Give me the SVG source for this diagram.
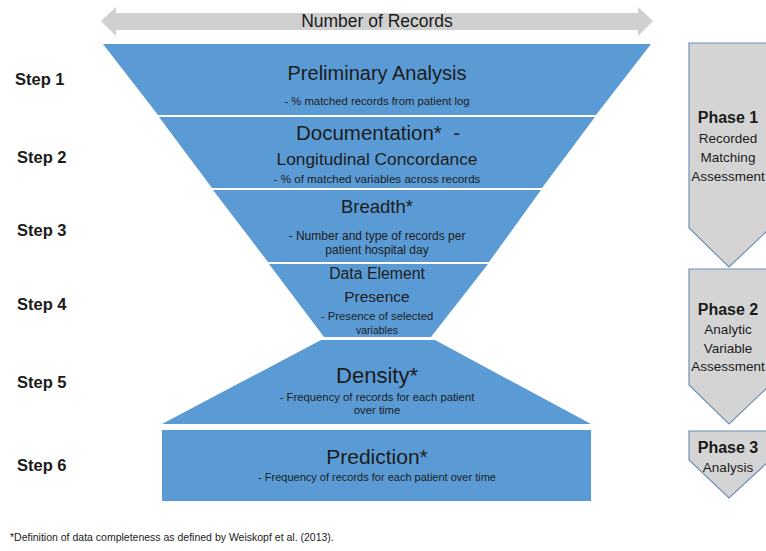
<svg xmlns="http://www.w3.org/2000/svg" width="766" height="551" viewBox="0 0 766 551">
  <style>
    text { font-family: "Liberation Sans", Arial, sans-serif; fill: #1b1b1b; }
    .band { fill: #5b9bd5; }
    .title { font-size: 20px; text-anchor: middle; }
    .sub { font-size: 11.3px; text-anchor: middle; }
    .step { font-size: 16.5px; font-weight: bold; }
    .phase { fill: #d4d4d4; stroke: #6f8fb4; stroke-width: 1.2; }
    .ph { font-size: 16px; font-weight: bold; text-anchor: middle; }
    .pd { font-size: 13.5px; text-anchor: middle; }
  </style>

  <rect width="766" height="551" fill="#ffffff"/>

  <!-- width scale arrow -->
  <g id="records-axis">
    <polygon points="101,21 116,7 116,13 638,13 638,7 653,21 638,36 638,30 116,30 116,36" fill="#d0d0d0"/>
    <text x="377" y="27" style="font-size:17.5px" text-anchor="middle">Number of Records</text>
  </g>

  <!-- funnel bands -->
  <g id="step1">
    <polygon class="band" points="103,44 651,44 596,115 158,115"/>
    <text class="title" x="377" y="80">Preliminary Analysis</text>
    <text class="sub" x="377" y="105">- % matched records from patient log</text>
  </g>
  <g id="step2">
    <polygon class="band" points="159,117 595,117 542,188 212,188"/>
    <text class="title" x="378" y="140" style="font-size:20.5px" xml:space="preserve">Documentation*  -</text>
    <text class="title" x="377" y="165" style="font-size:17.3px">Longitudinal Concordance</text>
    <text class="sub" x="377" y="183" style="font-size:11.6px">- % of matched variables across records</text>
  </g>
  <g id="step3">
    <polygon class="band" points="213,190 541,190 489,262 268,262"/>
    <text class="title" x="377" y="213" style="font-size:18.5px">Breadth*</text>
    <text class="sub" x="377" y="240" style="font-size:12px">- Number and type of records per</text>
    <text class="sub" x="377" y="254" style="font-size:12px">patient hospital day</text>
  </g>
  <g id="step4">
    <polygon class="band" points="269,264 488,264 431,337 324,337"/>
    <text class="title" x="377" y="279" style="font-size:15.8px">Data Element</text>
    <text class="title" x="377" y="302" style="font-size:15.5px">Presence</text>
    <text class="sub" x="377" y="320">- Presence of selected</text>
    <text class="sub" x="377" y="334" style="font-size:10.5px">variables</text>
  </g>
  <g id="step5">
    <polygon class="band" points="321,340 435,340 591,424 162,424"/>
    <text class="title" x="377" y="383" style="font-size:22px">Density*</text>
    <text class="sub" x="377" y="401">- Frequency of records for each patient</text>
    <text class="sub" x="377" y="414">over time</text>
  </g>
  <g id="step6">
    <rect class="band" x="162" y="430" width="429" height="71"/>
    <text class="title" x="377" y="464" style="font-size:21px">Prediction*</text>
    <text class="sub" x="377" y="481" style="font-size:11px">- Frequency of records for each patient over time</text>
  </g>

  <!-- step labels -->
  <g id="step-labels">
    <text class="step" x="15" y="85">Step 1</text>
    <text class="step" x="17" y="163">Step 2</text>
    <text class="step" x="17" y="236">Step 3</text>
    <text class="step" x="17" y="310">Step 4</text>
    <text class="step" x="17" y="388">Step 5</text>
    <text class="step" x="17" y="471">Step 6</text>
  </g>

  <!-- phase chevrons -->
  <g id="phase1">
    <polygon class="phase" points="689,43 770,43 770,228 729,267 689,228"/>
    <text class="ph" x="728" y="123">Phase 1</text>
    <text class="pd" x="728" y="143">Recorded</text>
    <text class="pd" x="728" y="162">Matching</text>
    <text class="pd" x="728" y="181">Assessment</text>
  </g>
  <g id="phase2">
    <polygon class="phase" points="689,269 770,269 770,385 729,424 689,385"/>
    <text class="ph" x="728" y="315">Phase 2</text>
    <text class="pd" x="728" y="334">Analytic</text>
    <text class="pd" x="728" y="353">Variable</text>
    <text class="pd" x="728" y="371">Assessment</text>
  </g>
  <g id="phase3">
    <polygon class="phase" points="689,431 770,431 770,460 729,498 689,460"/>
    <text class="ph" x="728" y="453">Phase 3</text>
    <text class="pd" x="728" y="472">Analysis</text>
  </g>

  <text x="10" y="541" style="font-size:10.5px">*Definition of data completeness as defined by Weiskopf et al. (2013).</text>
</svg>
